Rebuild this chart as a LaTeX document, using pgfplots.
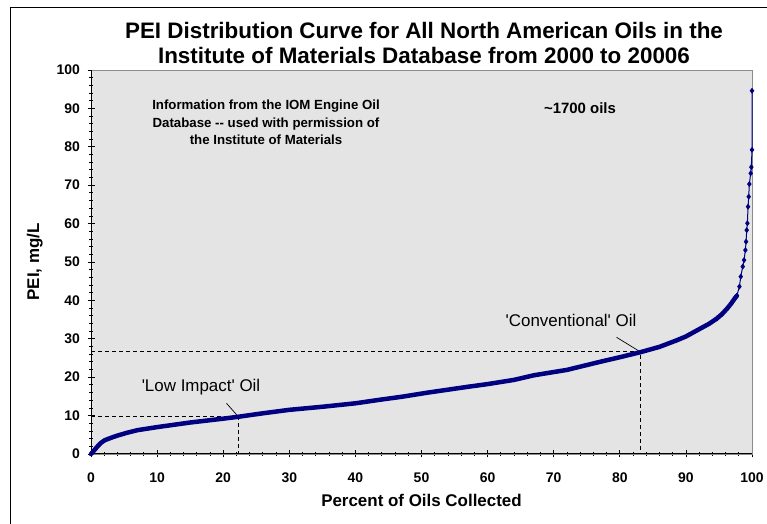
\documentclass[border=0pt]{standalone}
\usepackage{fontspec}
\setmainfont{Liberation Sans}
\usepackage{pgfplots}
\pgfplotsset{compat=1.18}
\definecolor{navy}{RGB}{0,0,128}
\definecolor{bgdot}{RGB}{228,228,228}
\definecolor{plotborder}{RGB}{140,140,140}

\pgfplotstableread{
x y
0 0
0.5 1.0
1 2.0
1.5 2.9
2.1 3.6
3 4.2
4 4.8
5.4 5.5
7 6.2
10 7.0
15 8.2
20 9.2
22.3 9.7
26 10.6
30 11.5
35 12.3
40 13.2
44 14.2
47 14.9
51 16.0
57 17.5
60 18.2
64 19.3
67 20.5
72 21.9
77 24.0
80 25.2
83.1 26.5
86 27.9
88.6 29.6
90 30.6
92 32.5
93.5 33.9
94.7 35.3
95.5 36.5
96.3 38.0
96.9 39.3
97.3 40.3
97.7 41.2
}\lowpart

\pgfplotstableread{
x y
94.7 35.3
95.5 36.5
96.3 38.0
96.9 39.3
97.3 40.3
97.7 41.2
98.1 43.6
98.3 46.2
98.6 48.8
98.8 50.5
99.0 53.1
99.1 55.3
99.2 58.3
99.3 60.1
99.4 64.4
99.5 67.0
99.6 70.3
99.8 73.1
99.9 74.7
100 79.2
100 94.6
}\highpart

\begin{document}
\begin{tikzpicture}
\useasboundingbox (0,0) rectangle (767bp,524bp);
\fill[white] (0,0) rectangle (767bp,524bp);
\draw[black, line width=1bp] (10bp,0) -- (10bp,516bp) -- (767bp,516bp);
\begin{axis}[
  at={(91bp,70bp)}, anchor=south west,
  width=661bp, height=384bp, scale only axis,
  xmin=0, xmax=100, ymin=0, ymax=100,
  xtick={0,10,...,100}, ytick={0,10,...,100},
  minor x tick num=4, minor y tick num=4,
  tick pos=left, tick align=center,
  major tick length=7bp, minor tick length=4bp,
  tick style={black, line width=0.8bp},
  axis background/.style={fill=bgdot},
  axis line style={draw=plotborder, line width=0.8bp},
  clip=false,
  /pgf/number format/assume math mode=true,
  ticklabel style={font=\fontsize{14}{14}\selectfont\bfseries},
  xticklabel style={yshift=-12bp},
  yticklabel style={xshift=-4bp},
  xlabel={Percent of Oils Collected},
  ylabel={PEI, mg/L},
  label style={font=\fontsize{17}{17}\selectfont\bfseries},
  xlabel style={at={(axis description cs:0.5,-0.12)}, anchor=center},
  ylabel style={at={(axis description cs:-0.085,0.5)}, anchor=center},
]
\draw[black, line width=1bp] (rel axis cs:0,1) -- (rel axis cs:0,0) -- (rel axis cs:1,0);
\draw[black, line width=0.8bp, dash pattern=on 4bp off 3bp] (axis cs:0,9.7) -- (axis cs:22.3,9.7) -- (axis cs:22.3,0);
\draw[black, line width=0.8bp, dash pattern=on 4bp off 3bp] (axis cs:0,26.7) -- (axis cs:83.1,26.7) -- (axis cs:83.1,0);
\draw[black, line width=0.7bp] (axis cs:20.5,13.2) -- (axis cs:22.3,9.7);
\draw[black, line width=0.7bp] (axis cs:79.5,30.4) -- (axis cs:83.1,26.6);
\addplot[navy, line width=4.5bp, no marks, line join=round, line cap=round] table[x=x,y=y] {\lowpart};
\addplot[navy, line width=1bp, mark=diamond*, mark size=2.2bp, mark options={solid, fill=navy}] table[x=x,y=y] {\highpart};
\end{axis}
\node[font=\fontsize{22.5}{25.5}\selectfont\bfseries, align=center] at (424bp,481bp)
  {PEI Distribution Curve for All North American Oils in the\\Institute of Materials Database from 2000 to 20006};
\node[font=\fontsize{13.3}{17.5}\selectfont\bfseries, align=center] at (266bp,401.3bp)
  {Information from the IOM Engine Oil\\Database {-}{-} used with permission of\\the Institute of Materials};
\node[font=\fontsize{15}{15}\selectfont\bfseries] at (580bp,416.3bp) {\textasciitilde 1700 oils};
\node[font=\fontsize{17}{17}\selectfont] at (201bp,137bp) {\textquotesingle Low Impact\textquotesingle\ Oil};
\node[font=\fontsize{17}{17}\selectfont] at (571bp,203.3bp) {\textquotesingle Conventional\textquotesingle\ Oil};
\end{tikzpicture}
\end{document}
